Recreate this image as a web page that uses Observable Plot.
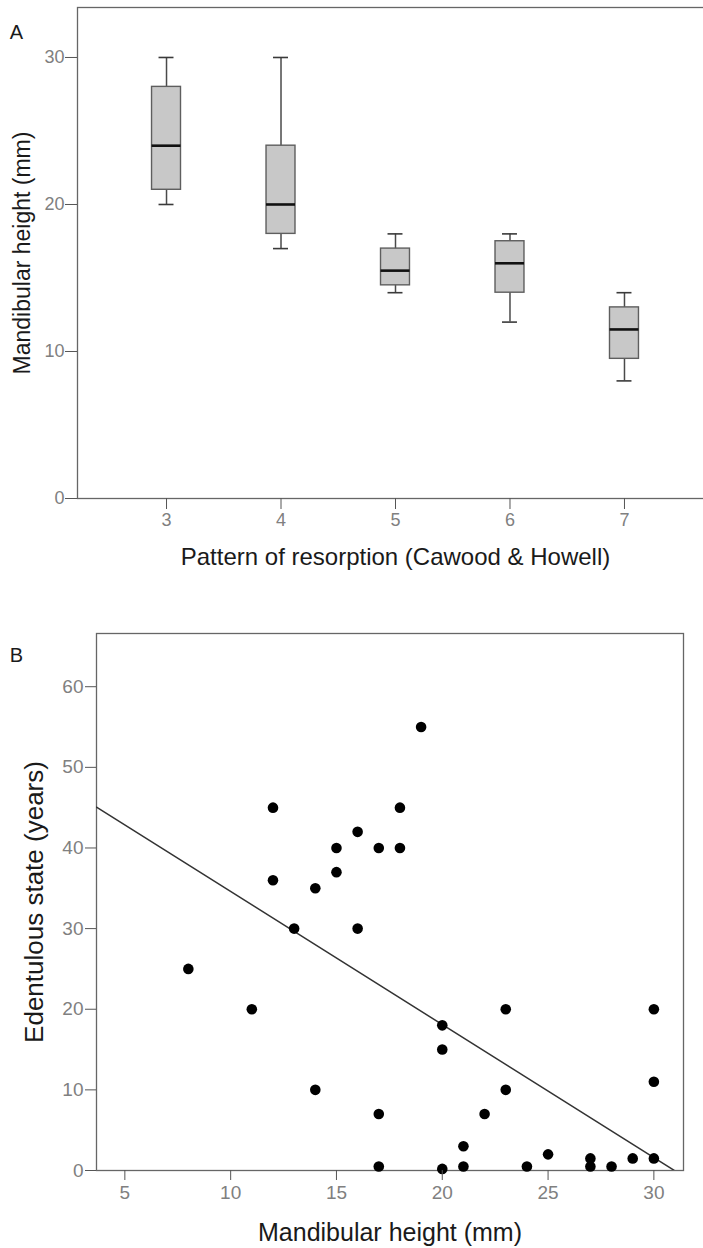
<!DOCTYPE html>
<html><head><meta charset="utf-8">
<script src="https://cdn.jsdelivr.net/npm/d3@7"></script>
<script src="https://cdn.jsdelivr.net/npm/@observablehq/plot@0.6"></script>
<style>
html,body{margin:0;padding:0;background:#fff;overflow:hidden;}
#chart{width:703px;height:1248px;overflow:hidden;position:relative;background:#fff}
#chart svg{display:block;overflow:visible;max-width:none !important;}
</style></head><body><div id="chart"></div>
<script>
// ---- Panel A: box plot summary values ----
const patterns = [3, 4, 5, 6, 7];
const boxMin = [20, 17, 14, 12, 8];
const boxQ1 = [21, 18, 14.5, 14, 9.5];
const boxMedian = [24, 20, 15.5, 16, 11.5];
const boxQ3 = [28, 24, 17, 17.5, 13];
const boxMax = [30, 30, 18, 18, 14];
const ticksA = [0, 10, 20, 30];
const yDomainA = [0, 33.4];

// ---- Panel B: scatter values ----
const mandibularHeight = [12, 12, 14, 15, 15, 16, 13, 16, 19, 18, 17, 18, 8, 11, 14, 17, 17, 20, 20, 20, 21, 21, 22, 23, 23, 24, 25, 27, 27, 28, 29, 30, 30, 30];
const edentulousYears  = [45, 36, 35, 40, 37, 42, 30, 30, 55, 45, 40, 40, 25, 20, 10, 7, 0.5, 18, 15, 0.2, 3, 0.5, 7, 20, 10, 0.5, 2, 1.5, 0.5, 0.5, 1.5, 1.5, 11, 20];
const ticksBX = [5, 10, 15, 20, 25, 30];
const ticksBY = [0, 10, 20, 30, 40, 50, 60];
const xDomainB = [3.66, 31.4];
const yDomainB = [0, 66.6];
const fitIntercept = 51.1;
const fitSlope = -1.65;

const FONT = "'Liberation Sans', Arial, sans-serif";

const boxes = patterns.map((p, i) => ({
  p: String(p), min: boxMin[i], q1: boxQ1[i], med: boxMedian[i], q3: boxQ3[i], max: boxMax[i]
}));

const plotA = Plot.plot({
  width: 713, height: 600,
  marginLeft: 77, marginRight: 0, marginTop: 7, marginBottom: 102,
  style: {fontFamily: FONT, fontSize: "17px", background: "#fff", maxWidth: "none"},
  x: {type: "band", domain: patterns.map(String), paddingInner: 0.747, paddingOuter: 0.651, round: false},
  y: {domain: yDomainA},
  marks: [
    Plot.frame({stroke: "#666", strokeWidth: 1.3}),
    Plot.ruleX(boxes, {x: "p", y1: "min", y2: "max", stroke: "#4a4a4a", strokeWidth: 1.5}),
    Plot.barY(boxes, {x: "p", y1: "q1", y2: "q3", fill: "#c8c8c8", stroke: "#5e5e5e", strokeWidth: 1.4}),
    Plot.tickY(boxes, {x: "p", y: "med", stroke: "#111", strokeWidth: 2.6}),
    Plot.tickY(boxes, {x: "p", y: "min", stroke: "#3a3a3a", strokeWidth: 1.6, insetLeft: 7, insetRight: 7}),
    Plot.tickY(boxes, {x: "p", y: "max", stroke: "#3a3a3a", strokeWidth: 1.6, insetLeft: 7, insetRight: 7}),
    Plot.axisY({ticks: ticksA, tickSize: 12, tickPadding: 1, stroke: "#555", fill: "#808080", fontSize: 18, label: null}),
    Plot.axisX({tickSize: 11, tickPadding: 4, stroke: "#555", fill: "#808080", fontSize: 18, label: null}),
    Plot.text(["Mandibular height (mm)"], {frameAnchor: "left", rotate: -90, dx: -54.5, textAnchor: "middle", lineAnchor: "middle", fontSize: 23, fill: "#1a1a1a"}),
    Plot.text(["Pattern of resorption (Cawood & Howell)"], {frameAnchor: "bottom", dy: 59, textAnchor: "middle", lineAnchor: "middle", fontSize: 24, fill: "#1a1a1a"}),
    Plot.text(["A"], {frameAnchor: "top-left", dx: -61, dy: 25, textAnchor: "middle", lineAnchor: "middle", fontSize: 20, fill: "#1a1a1a"})
  ]
});

const points = mandibularHeight.map((x, i) => ({x, y: edentulousYears[i]}));
const fitLine = xDomainB.map(x => ({x, y: fitIntercept + fitSlope * x}));

const plotB = Plot.plot({
  width: 703, height: 648,
  marginLeft: 96, marginRight: 20, marginTop: 33, marginBottom: 78,
  style: {fontFamily: FONT, fontSize: "18px", background: "#fff", maxWidth: "none"},
  x: {domain: xDomainB},
  y: {domain: yDomainB},
  marks: [
    Plot.frame({stroke: "#666", strokeWidth: 1.3}),
    Plot.line(fitLine, {x: "x", y: "y", stroke: "#333", strokeWidth: 1.5, clip: true}),
    Plot.dot(points, {x: "x", y: "y", r: 5.3, fill: "#000", stroke: "none"}),
    Plot.axisY({ticks: ticksBY, tickSize: 11, tickPadding: 2, stroke: "#555", fill: "#808080", fontSize: 19, label: null}),
    Plot.axisX({ticks: ticksBX, tickSize: 10, tickPadding: 5, stroke: "#555", fill: "#808080", fontSize: 19, label: null}),
    Plot.text(["Edentulous state (years)"], {frameAnchor: "left", rotate: -90, dx: -62, textAnchor: "middle", lineAnchor: "middle", fontSize: 26, fill: "#1a1a1a"}),
    Plot.text(["Mandibular height (mm)"], {frameAnchor: "bottom", dy: 62, textAnchor: "middle", lineAnchor: "middle", fontSize: 25, fill: "#1a1a1a"}),
    Plot.text(["B"], {frameAnchor: "top-left", dx: -80, dy: 22, textAnchor: "middle", lineAnchor: "middle", fontSize: 20, fill: "#1a1a1a"})
  ]
});

const chart = document.getElementById("chart");
chart.appendChild(plotA);
chart.appendChild(plotB);
</script>
</body></html>
